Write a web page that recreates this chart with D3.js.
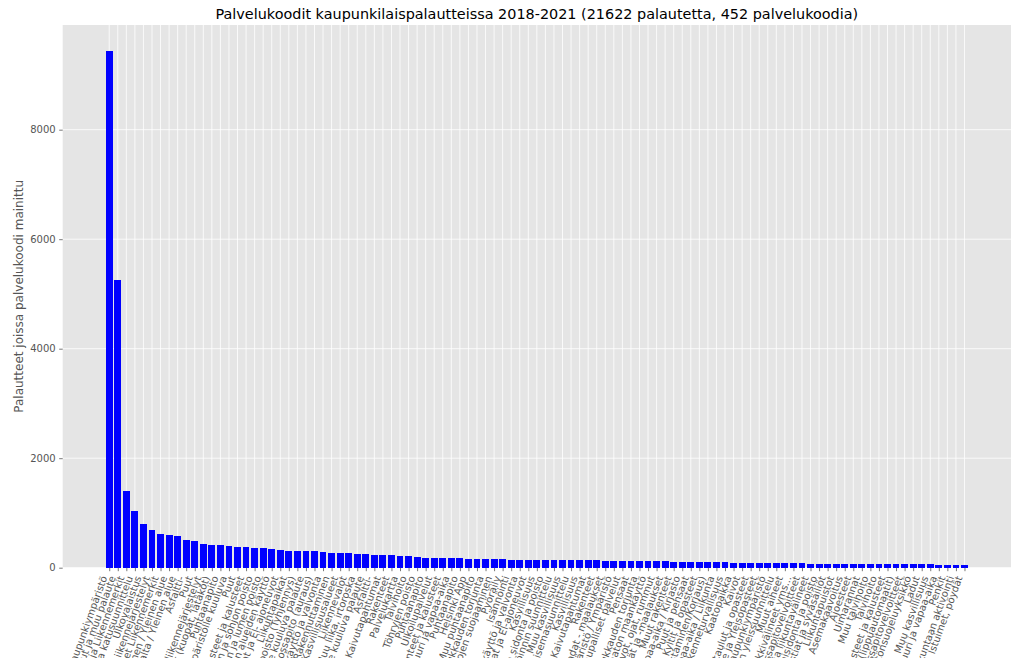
<!DOCTYPE html>
<html>
<head>
<meta charset="utf-8">
<script src="https://cdn.jsdelivr.net/npm/d3@7"></script>
<style>
  html, body { margin: 0; padding: 0; background: #ffffff; }
  svg { display: block; }
  text { font-family: "DejaVu Sans", sans-serif; }
</style>
</head>
<body>
<svg id="chart" width="1019" height="658"></svg>
<script>
const labels = [
  "Kaupunkiympäristö",
  "Kiitokset, kehut ja muu palaute",
  "Liikennevalot ja Liikennemerkit",
  "Liikenne- ja katusuunnittelu",
  "Ulkovalaistus",
  "Liikennejärjestelyt",
  "Tilapäiset Liikennemerkit",
  "Roskaaminen / Yleinen alue",
  "Ilkivalta / Yleinen alue",
  "Asfaltti-",
  "Puut",
  "Tilapäiset liikennejärjestelyt",
  "Katuvauriot (kuopat, lätäköt)",
  "Puhtaanapito",
  "Muulle kaupunkiympäristölle kuuluva",
  "Puut",
  "Pysäkkien varusteet ja kalusteet",
  "Lumen ja sohjon poisto",
  "Jään ja lumen poisto",
  "Yleisten alueiden käyttö",
  "Sähköpotkulaudat ja El- ajoneuvot",
  "Liikuntapaikat",
  "Romuajoneuvojen poisto (Tyhjennys)",
  "Kaupungille kuuluva palaute",
  "Talvikunnossapito (auraus)",
  "Katujen käyttö ja valvonta",
  "Rakennuttaminen",
  "Kasvillisuusalueet",
  "Liikennevalot",
  "Muu liika, irtoroska",
  "Muulle taholle kuuluva palaute",
  "Asfaltti-",
  "Kaivutapahtumat",
  "Rakenteet",
  "Palvelukartta",
  "Talvihoito",
  "Töhryjen poisto",
  "Puhtaanapito",
  "Ulkoilupalvelut",
  "Puistorakenteet ja kalusteet",
  "Kulttuuri ja vapaa-aika",
  "Puhtaanapito",
  "Helsinki App",
  "Muu puhtaanapito",
  "Liukkauden torjunta",
  "Puiden ja puustojen suojaaminen",
  "Pyöräily",
  "Isännöinti",
  "Pysäköinnin käyttö ja valvonta",
  "Sähköpotkulaudat ja El-ajoneuvot",
  "Kasvillisuus",
  "Kasvillisuuden sidonta ja poisto",
  "Pysäköinnin suunnittelu",
  "Muu kasvillisuus",
  "Kaupunkikuva- ja maisemasuunnittelu",
  "Kasvillisuus",
  "Kaivutapahtumat",
  "Rakenteet",
  "Ajoradat - maalaukset",
  "Kaupunkiympäristö / Ympäristö",
  "Kaupalliset palvelut",
  "Pensaat",
  "Liukkauden torjunta",
  "Rakentamaton maankäyttö",
  "Kaivot, ojat, rummut",
  "Tiemerkinnät ja -maalaukset",
  "Muut rakenteet",
  "Kulttuuri ja vapaa-aika / Kirjasto",
  "Puut ja pensaat",
  "Kyltit ja opasteet",
  "Kalusteet (Puhdistaminen/Korjaus)",
  "Kulttuuri ja vapaa-aika / Liikunta",
  "Liikenneturvallisuus",
  "Kaatopaikka",
  "Kaivot",
  "Mainostaulut ja opasteet",
  "Liikenne ja Yleisopasteet",
  "Muu kaupunkiympäristö",
  "Viheralueiden yleissuunnittelu",
  "Muut aiheet",
  "Leikkivälineet yms...",
  "Kiinteistöjen kunnossapitovelvoitteet",
  "Ulkoilureitit ja liikuntavälineet",
  "Eläinten kiinnisidonta ja poisto",
  "Roska-astiat ja syväsäiliöt",
  "Liikuntapuistot",
  "Asemakaavoitus",
  "Ajoesteet",
  "Uimarannat",
  "Muu talvihoito",
  "Talvihoito",
  "Leikkipuistojen varusteet ja kalusteet",
  "Pysäköintiautomaatit (lippuautomaatit)",
  "Tonttien kunnossapitovelvoitteet",
  "Ympäristönsuojeluyksikkö",
  "Ladut",
  "Muu kasvillisuus",
  "Kulttuuri ja vapaa-aika",
  "Penkit",
  "Liikuntaan aktivointi",
  "Istuimet, pöydät"
];

const values = [
  9440, 5250, 1400, 1035, 797, 687, 614, 596, 578, 505,
  486, 432, 414, 412, 395, 377, 375, 359, 357, 341,
  323, 306, 304, 303, 301, 286, 269, 267, 265, 250,
  248, 232, 230, 229, 213, 211, 195, 178, 177, 176,
  175, 174, 160, 159, 158, 157, 156, 142, 141, 141,
  140, 140, 139, 139, 138, 138, 137, 137, 123, 122,
  122, 121, 121, 120, 120, 119, 105, 104, 104, 103,
  103, 102, 102, 87, 87, 86, 86, 85, 85, 84,
  84, 83, 68, 68, 67, 67, 67, 66, 66, 66,
  65, 65, 65, 64, 64, 64, 63, 50, 49, 49,
  48
];

const yTicks = [0, 2000, 4000, 6000, 8000];

const titleText = "Palvelukoodit kaupunkilaispalautteissa 2018-2021 (21622 palautetta, 452 palvelukoodia)";
const yLabelText = "Palautteet joissa palvelukoodi mainittu";

const W = 1019, H = 658;
const plot = { left: 62.7, right: 1011, top: 25, bottom: 567.7 };
const n = values.length;
const barW = 0.8;
const pad = 0.05 * (n - 1 + barW);

const svg = d3.select("#chart");

const x = d3.scaleLinear()
  .domain([-barW / 2 - pad, n - 1 + barW / 2 + pad])
  .range([plot.left, plot.right]);
const y = d3.scaleLinear()
  .domain([0, d3.max(values) * 1.05])
  .range([plot.bottom, plot.top]);

// axes background
svg.append("rect")
  .attr("x", plot.left).attr("y", plot.top)
  .attr("width", plot.right - plot.left)
  .attr("height", plot.bottom - plot.top)
  .attr("fill", "#E5E5E5");

// grid
const grid = svg.append("g");
grid.selectAll("line.v").data(d3.range(n)).enter().append("line")
  .attr("x1", d => x(d)).attr("x2", d => x(d))
  .attr("y1", plot.top).attr("y2", plot.bottom)
  .attr("stroke", "#ffffff").attr("stroke-width", 0.8);
grid.selectAll("line.h").data(yTicks).enter().append("line")
  .attr("x1", plot.left).attr("x2", plot.right)
  .attr("y1", d => y(d)).attr("y2", d => y(d))
  .attr("stroke", "#ffffff").attr("stroke-width", 0.8);

// bars
const bw = x(barW) - x(0);
svg.append("g").selectAll("rect").data(values).enter().append("rect")
  .attr("x", (d, i) => x(i) - bw / 2)
  .attr("width", bw)
  .attr("y", d => y(d))
  .attr("height", d => y(0) - y(d))
  .attr("fill", "#0000ff")
  .attr("shape-rendering", "crispEdges");

// y axis
const yAxis = svg.append("g")
  .attr("transform", `translate(${plot.left},0)`)
  .call(d3.axisLeft(y).tickValues(yTicks).tickFormat(d3.format("d")).tickSize(3.5).tickPadding(3.5));
yAxis.select(".domain").remove();
yAxis.selectAll(".tick line").attr("stroke", "#555555").attr("stroke-width", 0.8);
yAxis.selectAll(".tick text")
  .attr("fill", "#555555")
  .style("font-family", "DejaVu Sans")
  .style("font-size", "10px");

// x axis
const xAxis = svg.append("g")
  .attr("transform", `translate(0,${plot.bottom})`)
  .call(d3.axisBottom(x).tickValues(d3.range(n)).tickFormat(i => labels[i]).tickSize(3.5));
xAxis.select(".domain").remove();
xAxis.selectAll(".tick line").attr("stroke", "#555555").attr("stroke-width", 0.8);
xAxis.selectAll(".tick text")
  .attr("fill", "#555555")
  .attr("x", 0).attr("y", 0).attr("dy", 0)
  .attr("text-anchor", "end")
  .attr("transform", "translate(-2.3,9.8) rotate(-70)")
  .style("font-family", "DejaVu Sans")
  .style("font-size", "10px");

// title
svg.append("text")
  .attr("x", (plot.left + plot.right) / 2)
  .attr("y", 19)
  .attr("text-anchor", "middle")
  .attr("fill", "#000000")
  .style("font-family", "DejaVu Sans")
  .style("font-size", "14.4px")
  .text(titleText);

// y label
svg.append("text")
  .attr("transform", `translate(22.5,${(plot.top + plot.bottom) / 2}) rotate(-90)`)
  .attr("text-anchor", "middle")
  .attr("fill", "#555555")
  .style("font-family", "DejaVu Sans")
  .style("font-size", "12px")
  .text(yLabelText);
</script>
</body>
</html>
